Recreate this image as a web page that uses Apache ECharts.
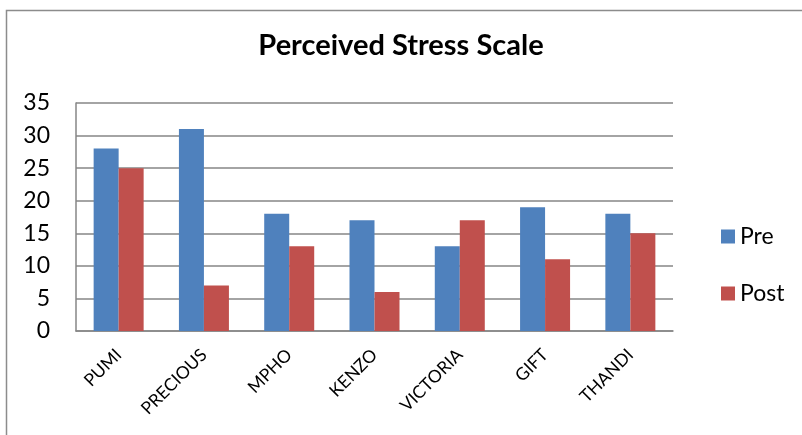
<!DOCTYPE html>
<html>
<head>
<meta charset="utf-8">
<script src="https://cdn.jsdelivr.net/npm/echarts@6/dist/echarts.min.js"></script>
<style>
  html, body { margin: 0; padding: 0; background: #fff; }
  #chart { width: 802px; height: 435px; }
</style>
</head>
<body>
<div id="chart"></div>
<script>
// 数据
const names = ['PUMI', 'PRECIOUS', 'MPHO', 'KENZO', 'VICTORIA', 'GIFT', 'THANDI']
const preScores = [28, 31, 18, 17, 13, 19, 18]
const postScores = [25, 7, 13, 6, 17, 11, 15]

const fontName = 'Lato, "Open Sans", sans-serif'
const chart = echarts.init(document.getElementById('chart'))

const option = {
  animation: false,
  backgroundColor: '#fff',
  title: {
    text: 'Perceived Stress Scale',
    left: 'center',
    top: 26,
    textStyle: { fontFamily: fontName, fontWeight: 'bold', fontSize: 29, color: '#000' }
  },
  // 外边框
  graphic: [{
    type: 'rect',
    shape: { x: 6.5, y: 10.5, width: 900, height: 500 },
    style: { fill: 'none', stroke: '#8c8c8c', lineWidth: 1.5 }
  }],
  legend: {
    orient: 'vertical',
    left: 716,
    top: 220,
    itemWidth: 14,
    itemHeight: 14,
    itemGap: 34,
    icon: 'rect',
    textStyle: { fontFamily: fontName, fontSize: 23, color: '#000' },
    data: ['Pre', 'Post']
  },
  grid: { left: 76, right: 129, top: 103, bottom: 104 },
  xAxis: {
    type: 'category',
    data: names,
    axisLine: { lineStyle: { color: '#868686', width: 1.5 } },
    axisTick: { show: false },
    axisLabel: { rotate: 45, margin: 21, fontFamily: fontName, fontSize: 17.5, color: '#000', interval: 0 }
  },
  yAxis: {
    type: 'value',
    min: 0,
    max: 35,
    interval: 5,
    axisLine: { show: true, lineStyle: { color: '#868686', width: 1.5 } },
    axisTick: { show: false },
    axisLabel: { margin: 26, fontFamily: fontName, fontSize: 23, color: '#000' },
    splitLine: { lineStyle: { color: '#868686', width: 1.5 } }
  },
  series: [
    { name: 'Pre', type: 'bar', data: preScores, barWidth: 25, barGap: '0%', itemStyle: { color: '#4f81bd' } },
    { name: 'Post', type: 'bar', data: postScores, barWidth: 25, barGap: '0%', itemStyle: { color: '#c0504d' } }
  ]
}

chart.setOption(option)
</script>
</body>
</html>
